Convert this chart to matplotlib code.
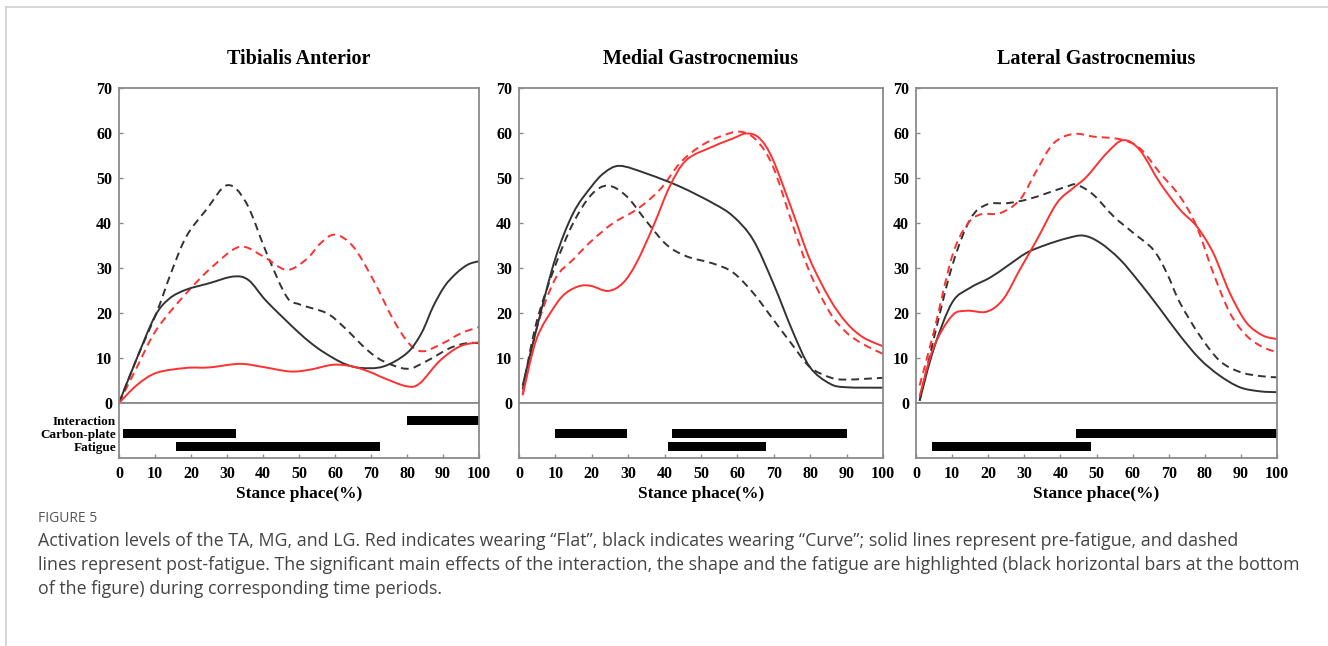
import numpy as np
import matplotlib.pyplot as plt
from matplotlib.lines import Line2D
from matplotlib.path import Path
from matplotlib.patches import PathPatch

# ---- data (stance phase %, activation %) ----
muscles = ['Tibialis Anterior', 'Medial Gastrocnemius', 'Lateral Gastrocnemius']
row_names = ['Interaction', 'Carbon-plate', 'Fatigue']

# Tibialis Anterior
ta_flat_pre = [(0, 0), (5, 4), (10.4, 6.7), (18.7, 7.8), (25, 7.9), (33.5, 8.7), (40, 8.0), (47.5, 7.0),
               (53, 7.4), (59.5, 8.5), (65, 8.1), (70, 6.8), (73.4, 5.6), (80, 3.7), (83.6, 4.4),
               (89, 9.3), (94.7, 12.6), (100, 13.5)]
ta_flat_post = [(0, 0), (5, 8), (10.4, 16.3), (18.7, 24.4), (26.1, 30.4), (33.5, 34.7), (40, 32.6),
                (46.5, 29.6), (52, 31.9), (56, 35.5), (60, 37.4), (65, 34.8), (70.6, 27.4), (76.2, 18.5),
                (80.8, 13.0), (84.5, 11.5), (90, 13.3), (95, 15.5), (100, 16.9)]
ta_curve_pre = [(0, 0), (5, 10), (10, 19.3), (14, 23.2), (18.7, 25.2), (25, 26.6), (31.7, 28.1),
                (36, 27.3), (41, 22.6), (50, 15.6), (55, 12.3), (59.5, 10.0), (63, 8.6), (67, 7.8),
                (73.4, 8.1), (80, 11.1), (84, 15.5), (87.3, 21.5), (90.5, 26), (93.8, 28.9),
                (97, 30.8), (100, 31.5)]
ta_curve_post = [(0, 0), (5, 10), (10.4, 20), (14.5, 29), (18.7, 37), (24.3, 43), (30.1, 48.4),
                 (35.4, 44.4), (41, 33.3), (46.5, 23.7), (50.2, 21.9), (57.6, 20), (62.3, 17),
                 (68.8, 11.9), (73.4, 9.3), (80, 7.6), (85.4, 9.3), (91.9, 12.2), (96.6, 13.3), (100, 13.3)]
ta_bars = [(0, 80, 100), (1, 1.2, 32.4), (2, 15.7, 72.5)]

# Medial Gastrocnemius
mg_flat_pre = [(1, 1.7), (4.8, 14.2), (9.9, 21.6), (13, 24.5), (16.7, 26.0), (19.9, 26.0), (24.5, 24.9),
               (28.6, 26.7), (32.3, 31.2), (36.9, 39.3), (41.4, 48.1), (46, 54), (53.3, 57),
               (58.8, 58.8), (62.5, 59.9), (66.1, 58.8), (69.8, 54), (75.3, 42.2), (79.9, 31.9),
               (85.4, 23.1), (89.9, 17.9), (94.5, 14.6), (100, 12.6)]
mg_flat_post = [(1, 2), (4.8, 16.4), (9.9, 27.5), (14.9, 31.9), (19.9, 36), (25.9, 40), (32.3, 43),
                (38.7, 47.4), (44.2, 53.3), (49.7, 57), (55.2, 59.2), (60.7, 60.3), (65.2, 58.4),
                (69.8, 52.5), (75.3, 39.3), (79.9, 29), (85.4, 20.1), (89.9, 15.7), (94.5, 13.1),
                (100, 10.9)]
mg_curve_pre = [(1, 3.9), (4.8, 16.4), (9.9, 31.9), (14.9, 42.2), (19.9, 48.1), (23.5, 51.2),
                (27.7, 52.7), (35, 51), (44.2, 48.1), (53.3, 44.4), (58.8, 41.5), (64.3, 36.3),
                (69.8, 26.7), (75.3, 15.7), (79.9, 8), (85.4, 4.3), (89.9, 3.5), (100, 3.4)]
mg_curve_post = [(1, 3), (4.8, 17.9), (9.9, 30.4), (14.9, 40), (19.9, 46.3), (24.5, 48.3),
                 (29.6, 45.9), (35, 40.4), (40.5, 35.2), (46, 32.6), (53.3, 31), (58.8, 29),
                 (64.3, 24.5), (69.8, 18.6), (75.3, 12.7), (79.9, 8), (85.4, 5.7), (89.9, 5.2), (100, 5.6)]
mg_bars = [(1, 10, 29.8), (1, 41.9, 90), (2, 41, 67.9)]

# Lateral Gastrocnemius
lg_flat_pre = [(1, 1.5), (4.9, 12.4), (10, 19.4), (14.1, 20.5), (19.6, 20.3), (24.2, 23.1), (28.8, 29.7),
               (33.5, 36.3), (39, 44.4), (43.6, 47.8), (47.3, 50.3), (52.8, 55.5), (57.4, 58.4),
               (62, 56.2), (67.6, 48.9), (73.1, 43), (77.7, 39.3), (82.3, 33.4), (86.9, 24.5),
               (91.5, 17.9), (96.1, 15), (100, 14.2)]
lg_flat_post = [(1, 3.9), (4.9, 15.7), (10, 32.6), (14.1, 39.6), (17.8, 41.9), (23.3, 42.2), (28.8, 45.2),
                (33.5, 51.8), (38.1, 57.7), (43.6, 59.8), (49.1, 59.2), (56.5, 58.6), (62, 56.6),
                (67.6, 51.1), (73.1, 45.9), (77.7, 39.3), (82.3, 29), (86.9, 20.1), (91.5, 15),
                (96.1, 12.4), (100, 11.3)]
lg_curve_pre = [(1, 0.5), (4.9, 12), (10, 22.3), (15, 25.6), (20.6, 27.9), (25.2, 30.4), (30.7, 33.4),
                (36.2, 35.2), (41.8, 36.6), (46.4, 37.2), (51, 35.6), (56.5, 31.9), (62, 26.7),
                (67.6, 20.9), (73.1, 15), (78.6, 9.8), (84.1, 6.1), (89.7, 3.5), (95.2, 2.6), (100, 2.4)]
lg_curve_post = [(1, 0.5), (4.9, 14.2), (10, 30.4), (15, 40.8), (19.6, 44.1), (25.2, 44.4), (30.7, 45.2),
                 (36.2, 46.6), (41.8, 48.1), (44.5, 48.5), (49.1, 46.3), (54.7, 41.5), (60.2, 37.8),
                 (65.7, 34.1), (69.4, 29), (73.1, 22.3), (78.6, 15), (84.1, 9.4), (89.7, 6.9),
                 (95.2, 6), (100, 5.7)]
lg_bars = [(1, 44.3, 100), (2, 4.3, 48.5)]

panels = [
    (ta_flat_pre, ta_flat_post, ta_curve_pre, ta_curve_post, ta_bars),
    (mg_flat_pre, mg_flat_post, mg_curve_pre, mg_curve_post, mg_bars),
    (lg_flat_pre, lg_flat_post, lg_curve_pre, lg_curve_post, lg_bars),
]

RED = '#ff3030'
BLK = '#333333'
SPINE = '#8a8a8a'
serif = 'Liberation Serif'


def smooth_path(pts):
    # catmull-rom through the read points, drawn as cubic bezier segments
    p = np.array(pts, dtype=float)
    verts = [p[0]]
    codes = [Path.MOVETO]
    n = len(p)
    for k in range(n - 1):
        p0 = p[k - 1] if k > 0 else p[k]
        p3 = p[k + 2] if k + 2 < n else p[k + 1]
        c1 = p[k] + (p[k + 1] - p0) / 6.0
        c2 = p[k + 1] - (p3 - p[k]) / 6.0
        verts += [c1, c2, p[k + 1]]
        codes += [Path.CURVE4] * 3
    return Path(verts, codes)


W, H = 1328, 646
fig = plt.figure(figsize=(W / 100, H / 100), dpi=100)

# page frame lines (top and left)
fig.add_artist(Line2D([6 / W, 1], [1 - 7 / H, 1 - 7 / H], color='#cfcfcf', lw=1.2))
fig.add_artist(Line2D([6 / W, 6 / W], [0, 1 - 7 / H], color='#cfcfcf', lw=1.2))

lefts = [119, 519, 916]
rights = [479, 883, 1277]
top, zero, bottom = 88, 403, 458

for i, (name, (fpre, fpost, cpre, cpost, bars)) in enumerate(zip(muscles, panels)):
    l, r = lefts[i], rights[i]
    ax = fig.add_axes([l / W, 1 - zero / H, (r - l) / W, (zero - top) / H])
    axb = fig.add_axes([l / W, 1 - bottom / H, (r - l) / W, (bottom - zero) / H])

    for pts, col, ls in [(cpost, BLK, '--'), (fpost, RED, '--'), (cpre, BLK, '-'), (fpre, RED, '-')]:
        patch = PathPatch(smooth_path(pts), facecolor='none', edgecolor=col, lw=1.4, capstyle='butt')
        if ls == '--':
            patch.set_linestyle((0, (4, 2.6)))
        ax.add_patch(patch)

    ax.set_xlim(0, 100)
    ax.set_ylim(0, 70)
    ax.set_xticks([])
    ax.set_yticks(np.arange(0, 71, 10))
    ax.tick_params(axis='y', direction='in', length=3, width=1, color=SPINE, pad=5)
    for lab in ax.get_yticklabels():
        lab.set_fontfamily(serif)
        lab.set_fontweight('bold')
        lab.set_fontsize(11.5)
    for s in ax.spines.values():
        s.set_color(SPINE)
        s.set_linewidth(1.3)
    ax.text(0.5, 1 + 29 / (zero - top), name, transform=ax.transAxes, ha='center', va='center',
            family=serif, fontweight='bold', fontsize=14.5)

    # significance strip
    for row, x0, x1 in bars:
        axb.barh(row, x1 - x0, left=x0, height=0.7, color='black')
    axb.set_xlim(0, 100)
    axb.set_ylim(2.84, -1.3)
    axb.set_xticks(np.arange(0, 101, 10))
    axb.tick_params(axis='x', direction='in', length=3, width=1, color=SPINE, pad=6)
    for lab in axb.get_xticklabels():
        lab.set_fontfamily(serif)
        lab.set_fontweight('bold')
        lab.set_fontsize(11.5)
    if i == 0:
        axb.set_yticks(range(len(row_names)))
        axb.set_yticklabels(row_names, family=serif, fontweight='bold', fontsize=9.5)
        axb.tick_params(axis='y', length=0, pad=2)
    else:
        axb.set_yticks([])
    for s in axb.spines.values():
        s.set_color(SPINE)
        s.set_linewidth(1.3)
    fig.text((l + r) / 2 / W, 1 - 494 / H, 'Stance phace(%)', ha='center', va='center',
             family=serif, fontweight='bold', fontsize=12.5)

# caption
fig.text(38 / W, 1 - 518 / H, 'FIGURE 5', ha='left', va='center', family='Open Sans',
         fontsize=10, color='#555555')
caption = [
    'Activation levels of the TA, MG, and LG. Red indicates wearing \u201cFlat\u201d, black indicates wearing \u201cCurve\u201d; '
    'solid lines represent pre-fatigue, and dashed',
    'lines represent post-fatigue. The significant main effects of the interaction, the shape and the fatigue are '
    'highlighted (black horizontal bars at the bottom',
    'of the figure) during corresponding time periods.',
]
for k, line in enumerate(caption):
    fig.text(38 / W, 1 - (541 + 24 * k) / H, line, ha='left', va='center', family='Open Sans',
             fontsize=12.8, color='#444444')

fig.savefig('out.png', dpi=100)
